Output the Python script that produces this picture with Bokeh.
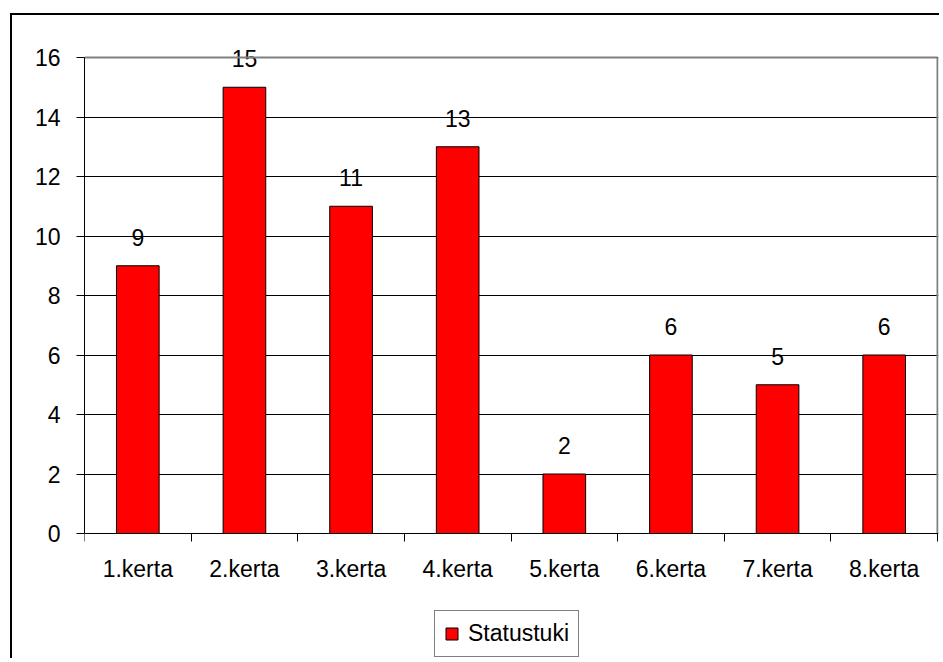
from bokeh.plotting import figure
from bokeh.models import (Range1d, FixedTicker, Legend, LegendItem, ColumnDataSource)
from bokeh.core.properties import value
from bokeh.embed import file_html
from bokeh.resources import INLINE

# ---- data ----
categories = ["1.kerta", "2.kerta", "3.kerta", "4.kerta",
              "5.kerta", "6.kerta", "7.kerta", "8.kerta"]
statustuki = [9, 15, 11, 13, 2, 6, 5, 6]
y_ticks = [0, 2, 4, 6, 8, 10, 12, 14, 16]
series_name = "Statustuki"

FONT = "Liberation Sans"
FSIZE = "23px"

# ---- layout (canvas pixels) ----
W, H = 929, 645
LEFT, TOP, RIGHT_EDGE = 72, 25, 926      # frame edges
AX_LEFT, AX_RIGHT = 72, 925               # category axis extent
Y16, Y0 = 42, 518                         # pixel rows of top / zero gridline

n = len(categories)
ymax = y_ticks[-1]
px_x = (AX_RIGHT - AX_LEFT) / n
px_y = (Y0 - Y16) / ymax
x_end = (RIGHT_EDGE - AX_LEFT) / px_x
y_start = -(H - Y0) / px_y
y_end = ymax + (Y16 - TOP) / px_y

xs = [i + 0.5 for i in range(n)]
src = ColumnDataSource(dict(x=xs, y=statustuki, label=[str(v) for v in statustuki]))

p = figure(width=W, height=H, output_backend="svg", toolbar_location=None,
           x_range=Range1d(0, x_end), y_range=Range1d(y_start, y_end),
           min_border_left=LEFT, min_border_top=TOP,
           min_border_right=W - RIGHT_EDGE, min_border_bottom=0)
p.margin = (13, 0, 0, 10)
p.styles = {"border-left": "2px solid black", "border-top": "2px solid black"}
p.background_fill_color = "white"
p.border_fill_color = "white"
p.outline_line_color = None

bars = p.vbar(x="x", top="y", width=0.4, bottom=0, source=src,
              fill_color="#FF0000", line_color="black", line_width=1)

p.text(x="x", y="y", text="label", source=src, text_align="center",
       text_baseline="bottom", y_offset=-20, text_font=value(FONT),
       text_font_size=FSIZE, text_color="black")

# plot-area border (top and right, grey)
p.segment(x0=[0, n], y0=[ymax, 0], x1=[n, n], y1=[ymax, ymax],
          line_color="#808080", line_width=2)

# grid
p.xgrid.visible = False
p.ygrid.ticker = FixedTicker(ticks=y_ticks)
p.ygrid.grid_line_color = "black"
p.ygrid.grid_line_width = 1

# y axis
ya = p.yaxis[0]
ya.ticker = FixedTicker(ticks=y_ticks)
ya.bounds = (0, ymax)
ya.axis_line_color = "black"
ya.major_tick_line_color = "black"
ya.major_tick_out = 8
ya.major_tick_in = 0
ya.minor_tick_line_color = None
ya.major_label_standoff = 16
ya.major_label_text_font = FONT
ya.major_label_text_font_size = FSIZE
ya.major_label_text_color = "black"

# x axis at y = 0 (labels at category centres, tick marks between categories)
xa = p.xaxis[0]
xa.fixed_location = 0
xa.bounds = (0, n)
xa.ticker = FixedTicker(ticks=xs, minor_ticks=list(range(n + 1)))
xa.major_label_overrides = {x: c for x, c in zip(xs, categories)}
xa.axis_line_color = "black"
xa.major_tick_line_color = None
xa.major_tick_out = 8
xa.major_tick_in = 0
xa.minor_tick_line_color = "black"
xa.minor_tick_out = 8
xa.minor_tick_in = 0
xa.major_label_standoff = 14
xa.major_label_text_font = FONT
xa.major_label_text_font_size = FSIZE
xa.major_label_text_color = "black"

# legend under the category labels
legend = Legend(items=[LegendItem(label=series_name, renderers=[bars])],
                location=(350, 3), orientation="horizontal",
                border_line_color="black", border_line_width=1,
                background_fill_color="white", background_fill_alpha=1,
                padding=9, spacing=0, margin=0,
                glyph_width=15, glyph_height=15, label_standoff=9,
                label_text_font=FONT, label_text_font_size=FSIZE,
                label_text_color="black")
p.add_layout(legend)

open("out.html", "w").write(file_html(p, INLINE))
